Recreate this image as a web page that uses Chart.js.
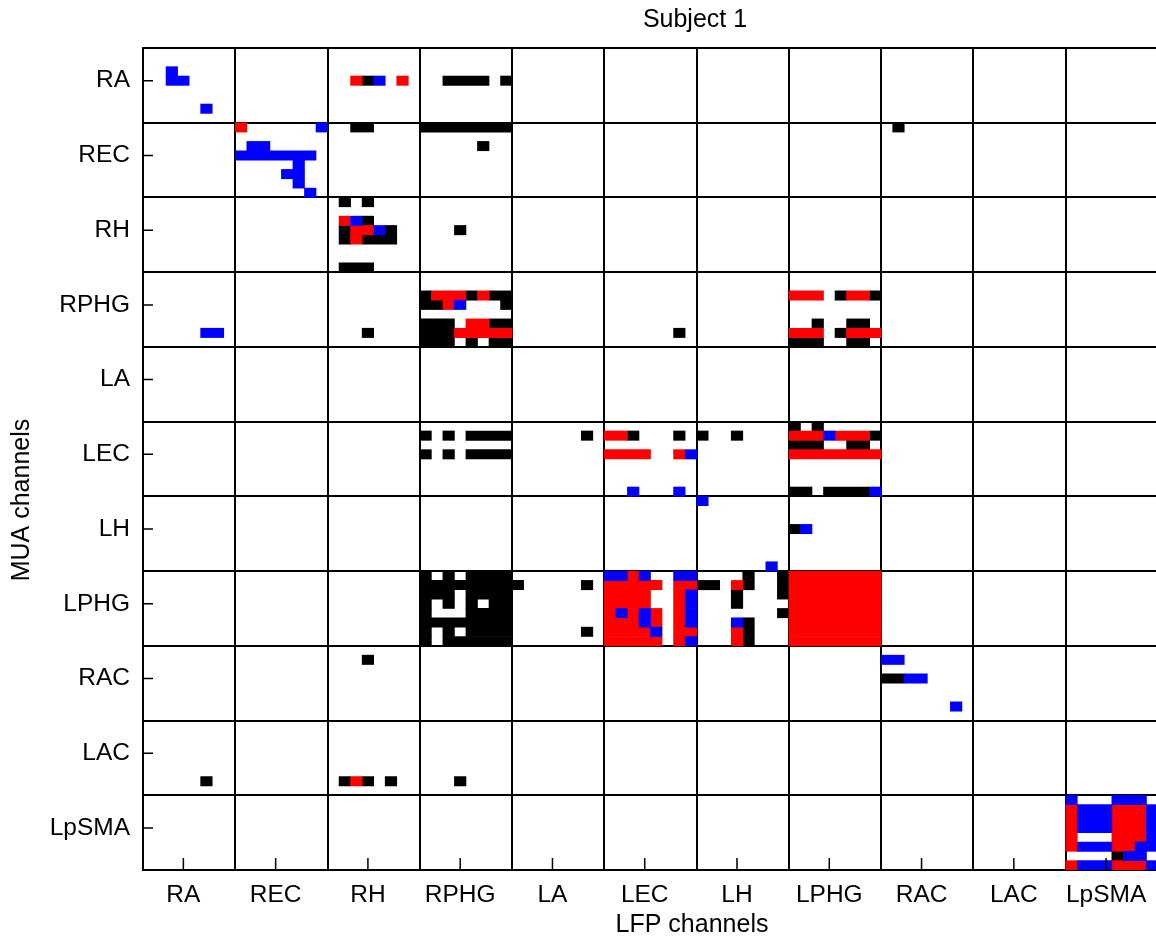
<!DOCTYPE html>
<html>
<head>
<meta charset="utf-8">
<script src="https://cdn.jsdelivr.net/npm/chart.js"></script>
<style>
html, body { margin: 0; padding: 0; background: #fff; overflow: hidden; }
#subjectChart { display: block; }
</style>
</head>
<body>
<canvas id="subjectChart" width="1158" height="939"></canvas>
<script>
// Brain regions, in the same order on both axes (8 channels each)
var regions = ['RA', 'REC', 'RH', 'RPHG', 'LA', 'LEC', 'LH', 'LPHG', 'RAC', 'LAC', 'LpSMA'];

// MUA rows, one string per channel, one 8-char group per LFP region.
// . = nothing, b = blue, r = red, k = black
var muaRA = [
  '........ ........ ........ ........ ........ ........ ........ ........ ........ ........ ........',
  '........ ........ ........ ........ ........ ........ ........ ........ ........ ........ ........',
  '..b..... ........ ........ ........ ........ ........ ........ ........ ........ ........ ........',
  '..bb.... ........ ..rkb.r. ..kkkk.k ........ ........ ........ ........ ........ ........ ........',
  '........ ........ ........ ........ ........ ........ ........ ........ ........ ........ ........',
  '........ ........ ........ ........ ........ ........ ........ ........ ........ ........ ........',
  '.....b.. ........ ........ ........ ........ ........ ........ ........ ........ ........ ........',
  '........ ........ ........ ........ ........ ........ ........ ........ ........ ........ ........'
];
var muaREC = [
  '........ r......b ..kk.... kkkkkkkk ........ ........ ........ ........ .k...... ........ ........',
  '........ ........ ........ ........ ........ ........ ........ ........ ........ ........ ........',
  '........ .bb..... ........ .....k.. ........ ........ ........ ........ ........ ........ ........',
  '........ bbbbbbb. ........ ........ ........ ........ ........ ........ ........ ........ ........',
  '........ .....b.. ........ ........ ........ ........ ........ ........ ........ ........ ........',
  '........ ....bb.. ........ ........ ........ ........ ........ ........ ........ ........ ........',
  '........ .....b.. ........ ........ ........ ........ ........ ........ ........ ........ ........',
  '........ ......b. ........ ........ ........ ........ ........ ........ ........ ........ ........'
];
var muaRH = [
  '........ ........ .k.k.... ........ ........ ........ ........ ........ ........ ........ ........',
  '........ ........ ........ ........ ........ ........ ........ ........ ........ ........ ........',
  '........ ........ .rbk.... ........ ........ ........ ........ ........ ........ ........ ........',
  '........ ........ .krrbk.. ...k.... ........ ........ ........ ........ ........ ........ ........',
  '........ ........ .krkkk.. ........ ........ ........ ........ ........ ........ ........ ........',
  '........ ........ ........ ........ ........ ........ ........ ........ ........ ........ ........',
  '........ ........ ........ ........ ........ ........ ........ ........ ........ ........ ........',
  '........ ........ .kkk.... ........ ........ ........ ........ ........ ........ ........ ........'
];
var muaRPHG = [
  '........ ........ ........ ........ ........ ........ ........ ........ ........ ........ ........',
  '........ ........ ........ ........ ........ ........ ........ ........ ........ ........ ........',
  '........ ........ ........ krrrkrkk ........ ........ ........ rrr.krrk ........ ........ ........',
  '........ ........ ........ kkrb...k ........ ........ ........ ........ ........ ........ ........',
  '........ ........ ........ ........ ........ ........ ........ ........ ........ ........ ........',
  '........ ........ ........ kkk.rrkk ........ ........ ........ ..k..kk. ........ ........ ........',
  '.....bb. ........ ...k.... kkkrrrrr ........ ......k. ........ rrr.krrr ........ ........ ........',
  '........ ........ ........ kkk.k.kk ........ ........ ........ kkk..kk. ........ ........ ........'
];
var muaLA = [
  '........ ........ ........ ........ ........ ........ ........ ........ ........ ........ ........',
  '........ ........ ........ ........ ........ ........ ........ ........ ........ ........ ........',
  '........ ........ ........ ........ ........ ........ ........ ........ ........ ........ ........',
  '........ ........ ........ ........ ........ ........ ........ ........ ........ ........ ........',
  '........ ........ ........ ........ ........ ........ ........ ........ ........ ........ ........',
  '........ ........ ........ ........ ........ ........ ........ ........ ........ ........ ........',
  '........ ........ ........ ........ ........ ........ ........ ........ ........ ........ ........',
  '........ ........ ........ ........ ........ ........ ........ ........ ........ ........ ........'
];
var muaLEC = [
  '........ ........ ........ ........ ........ ........ ........ k.k..... ........ ........ ........',
  '........ ........ ........ k.k.kkkk ......k. rrk...k. k..k.... rrrbrrrk ........ ........ ........',
  '........ ........ ........ ........ ........ ........ ........ kkk..kk. ........ ........ ........',
  '........ ........ ........ k.k.kkkk ........ rrrr..rb ........ rrrrrrrr ........ ........ ........',
  '........ ........ ........ ........ ........ ........ ........ ........ ........ ........ ........',
  '........ ........ ........ ........ ........ ........ ........ ........ ........ ........ ........',
  '........ ........ ........ ........ ........ ........ ........ ........ ........ ........ ........',
  '........ ........ ........ ........ ........ ..b...b. ........ kk.kkkkb ........ ........ ........'
];
var muaLH = [
  '........ ........ ........ ........ ........ ........ b....... ........ ........ ........ ........',
  '........ ........ ........ ........ ........ ........ ........ ........ ........ ........ ........',
  '........ ........ ........ ........ ........ ........ ........ ........ ........ ........ ........',
  '........ ........ ........ ........ ........ ........ ........ kb...... ........ ........ ........',
  '........ ........ ........ ........ ........ ........ ........ ........ ........ ........ ........',
  '........ ........ ........ ........ ........ ........ ........ ........ ........ ........ ........',
  '........ ........ ........ ........ ........ ........ ........ ........ ........ ........ ........',
  '........ ........ ........ ........ ........ ........ ......b. ........ ........ ........ ........'
];
var muaLPHG = [
  '........ ........ ........ k.k.kkkk ........ bbrb..bb ....k..k rrrrrrrr ........ ........ ........',
  '........ ........ ........ kkkkkkkk k.....k. rrrrr.rr kk.rk..k rrrrrrrr ........ ........ ........',
  '........ ........ ........ kkk.kkkk ........ rrrr..rb ...k...k rrrrrrrr ........ ........ ........',
  '........ ........ ........ k.k.k.kk ........ rrrr..rb ...k.... rrrrrrrr ........ ........ ........',
  '........ ........ ........ k...kkkk ........ rbrbr.rb .......k rrrrrrrr ........ ........ ........',
  '........ ........ ........ kkkkkkkk ........ rrrbr.rb ...bk... rrrrrrrr ........ ........ ........',
  '........ ........ ........ k.k.kkkk ......k. rrrrb.rr ...rk... rrrrrrrr ........ ........ ........',
  '........ ........ ........ k.kkkkkk ........ rrrrr.rb ...rk... rrrrrrrr ........ ........ ........'
];
var muaRAC = [
  '........ ........ ........ ........ ........ ........ ........ ........ ........ ........ ........',
  '........ ........ ...k.... ........ ........ ........ ........ ........ bb...... ........ ........',
  '........ ........ ........ ........ ........ ........ ........ ........ ........ ........ ........',
  '........ ........ ........ ........ ........ ........ ........ ........ kkbb.... ........ ........',
  '........ ........ ........ ........ ........ ........ ........ ........ ........ ........ ........',
  '........ ........ ........ ........ ........ ........ ........ ........ ........ ........ ........',
  '........ ........ ........ ........ ........ ........ ........ ........ ......b. ........ ........',
  '........ ........ ........ ........ ........ ........ ........ ........ ........ ........ ........'
];
var muaLAC = [
  '........ ........ ........ ........ ........ ........ ........ ........ ........ ........ ........',
  '........ ........ ........ ........ ........ ........ ........ ........ ........ ........ ........',
  '........ ........ ........ ........ ........ ........ ........ ........ ........ ........ ........',
  '........ ........ ........ ........ ........ ........ ........ ........ ........ ........ ........',
  '........ ........ ........ ........ ........ ........ ........ ........ ........ ........ ........',
  '........ ........ ........ ........ ........ ........ ........ ........ ........ ........ ........',
  '.....k.. ........ .krk.k.. ...k.... ........ ........ ........ ........ ........ ........ ........',
  '........ ........ ........ ........ ........ ........ ........ ........ ........ ........ ........'
];
var muaLpSMA = [
  '........ ........ ........ ........ ........ ........ ........ ........ ........ ........ b...bbb.',
  '........ ........ ........ ........ ........ ........ ........ ........ ........ ........ rbbbrrrb',
  '........ ........ ........ ........ ........ ........ ........ ........ ........ ........ rbbbrrrb',
  '........ ........ ........ ........ ........ ........ ........ ........ ........ ........ rbbbrrrb',
  '........ ........ ........ ........ ........ ........ ........ ........ ........ ........ r...rrrb',
  '........ ........ ........ ........ ........ ........ ........ ........ ........ ........ rbbbrrbb',
  '........ ........ ........ ........ ........ ........ ........ ........ ........ ........ ....kbb.',
  '........ ........ ........ ........ ........ ........ ........ ........ ........ ........ rbbbrrrb'
];

var muaRows = [].concat(muaRA, muaREC, muaRH, muaRPHG, muaLA, muaLEC, muaLH, muaLPHG, muaRAC, muaLAC, muaLpSMA);
var nChan = regions.length * 8;

// turn a colour code into floating bars, one per run of cells in a row
function runsFor(code) {
  var out = [];
  muaRows.forEach(function (line, row) {
    var s = line.replace(/ /g, '');
    var start = -1;
    for (var c = 0; c <= s.length; c++) {
      if (s[c] === code) {
        if (start < 0) start = c;
      } else if (start >= 0) {
        out.push({ x: [start, c], y: row + 0.5 });
        start = -1;
      }
    }
  });
  return out;
}

var bounds = [], centres = [];
for (var i = 0; i <= regions.length; i++) bounds.push(i * 8);
for (var j = 0; j < regions.length; j++) centres.push(j * 8 + 3.5);
var allTicks = bounds.concat(centres).sort(function (a, b) { return a - b; });

function isBound(v) { return v % 8 === 0; }
function labelFor(v) { return isBound(v) ? '' : regions[(v - 3.5) / 8]; }

var family = "'Liberation Sans', Arial, sans-serif";
var tickFont = { family: family, size: 24.5 };

// inward tick marks and the three titles
var frame = {
  id: 'frame',
  afterDraw: function (chart) {
    var ctx = chart.ctx, a = chart.chartArea;
    var sx = chart.scales.x, sy = chart.scales.y;
    ctx.save();
    ctx.strokeStyle = '#000';
    ctx.lineWidth = 1.5;
    centres.forEach(function (v) {
      var px = sx.getPixelForValue(v), py = sy.getPixelForValue(v);
      ctx.beginPath();
      ctx.moveTo(px, a.bottom); ctx.lineTo(px, a.bottom - 12);
      ctx.moveTo(a.left, py); ctx.lineTo(a.left + 10, py);
      ctx.stroke();
    });
    ctx.fillStyle = '#000';
    ctx.font = '25px ' + family;
    ctx.textAlign = 'center';
    ctx.textBaseline = 'middle';
    ctx.fillText('Subject 1', 695, 20);
    ctx.fillText('LFP channels', 692, 925);
    ctx.translate(22, 500);
    ctx.rotate(-Math.PI / 2);
    ctx.fillText('MUA channels', 0, 0);
    ctx.restore();
  }
};

Chart.defaults.color = '#000';

var ctx1 = document.getElementById('subjectChart');
var subjectChart = new Chart(ctx1, {
  type: 'bar',
  data: {
    datasets: [
      { label: 'blue', data: runsFor('b'), backgroundColor: '#0000ff' },
      { label: 'red', data: runsFor('r'), backgroundColor: '#ff0000' },
      { label: 'black', data: runsFor('k'), backgroundColor: '#000000' }
    ]
  },
  options: {
    indexAxis: 'y',
    responsive: false,
    animation: false,
    layout: { padding: { top: 48, left: 0, right: 0, bottom: 0 } },
    datasets: { bar: { grouped: false, barPercentage: 1, categoryPercentage: 1, borderWidth: 0 } },
    plugins: { legend: { display: false }, tooltip: { enabled: false }, title: { display: false } },
    scales: {
      x: {
        type: 'linear', position: 'bottom', min: 0, max: nChan, offset: false,
        afterBuildTicks: function (s) { s.ticks = allTicks.map(function (v) { return { value: v }; }); },
        afterFit: function (s) { s.height = 69; s.paddingLeft = 0; s.paddingRight = 0; },
        grid: {
          offset: false,
          drawTicks: false,
          color: '#000',
          lineWidth: function (c) { return c.tick && isBound(c.tick.value) ? 2 : 0; }
        },
        border: { display: true, color: '#000', width: 2 },
        ticks: { autoSkip: false, maxRotation: 0, padding: 11, font: tickFont, callback: labelFor }
      },
      y: {
        type: 'linear', position: 'left', min: 0, max: nChan, reverse: true, offset: false,
        afterBuildTicks: function (s) { s.ticks = allTicks.map(function (v) { return { value: v }; }); },
        afterFit: function (s) { s.width = 143; s.paddingTop = 0; s.paddingBottom = 0; },
        grid: {
          offset: false,
          drawTicks: false,
          color: '#000',
          lineWidth: function (c) { return c.tick && isBound(c.tick.value) ? 2 : 0; }
        },
        border: { display: true, color: '#000', width: 2 },
        ticks: { autoSkip: false, padding: 13, font: tickFont, callback: labelFor }
      }
    }
  },
  plugins: [frame]
});
</script>
</body>
</html>
